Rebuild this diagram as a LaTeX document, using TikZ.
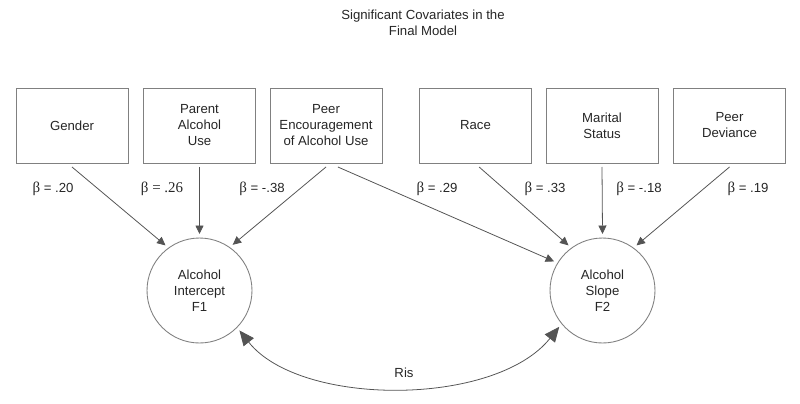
\documentclass[tikz,border=0pt]{standalone}
\usepackage{fontspec}
\usepackage{amsmath}
\setmainfont{Liberation Sans}
\newfontfamily\timesfont{Liberation Serif}
\usetikzlibrary{arrows.meta}
\definecolor{linegray}{rgb}{0.33, 0.33, 0.33}
\definecolor{boxgray}{rgb}{0.5, 0.5, 0.5}
\definecolor{textgray}{rgb}{0.15, 0.15, 0.15}
\newcommand{\bet}{{\timesfont\fontsize{8.5pt}{9pt}\selectfont β}}

\begin{document}
\begin{tikzpicture}[x=0.02cm, y=-0.02cm,
    font=\fontsize{7.5pt}{9.1pt}\selectfont, text=textgray,
    covbox/.style={draw=boxgray, line width=0.5pt, minimum width=2.24cm, minimum height=1.5cm, align=center, inner sep=0pt, outer sep=0.08cm},
    factor/.style={draw=boxgray, line width=0.5pt, circle, minimum size=2.1cm, align=center, inner sep=0pt, outer sep=0.08cm},
    path/.style={draw=linegray, line width=0.45pt, -{Triangle[length=1.7mm, width=1.6mm]}},
    ris/.style={draw=linegray, line width=0.45pt, {Triangle[length=3mm, width=2.6mm]}-{Triangle[length=3mm, width=2.6mm]}}]
    \useasboundingbox (0,0) rectangle (800,403);

    % Title
    \node[align=center] (title) at (423, 23) {Significant Covariates in the\\Final Model};

    % Covariates
    \node[covbox] (gender) at (72, 125.5) {Gender};
    \node[covbox] (parent) at (199.5, 125.5) {Parent\\Alcohol\\Use};
    \node[covbox] (peerenc) at (326, 125.5) {Peer\\Encouragement\\of Alcohol Use};
    \node[covbox] (race) at (475.5, 125.5) {Race};
    \node[covbox] (marital) at (602, 125.5) {Marital\\Status};
    \node[covbox] (peerdev) at (729.5, 125.5) {Peer\\Deviance};

    % Latent growth factors
    \node[factor] (F1) at (199.5, 290.5) {Alcohol\\Intercept\\F1};
    \node[factor] (F2) at (602.5, 290.5) {Alcohol\\Slope\\F2};

    % Paths to the intercept
    \draw[path] (gender.south) -- (F1.127);
    \draw[path] (parent.south) -- (F1.90);
    \draw[path] (peerenc.south) -- (F1.54);

    % Paths to the slope
    \draw[path] (peerenc.-74) -- (F2.149);
    \draw[path] (race.-85) -- (F2.127);
    \draw[path] (marital.south) -- (F2.90);
    \draw[path] (peerdev.south) -- (F2.53);

    % Coefficients
    \node (b1) at (53, 189) {\bet\ = .20};
    \node (b2) at (162, 189) {\timesfont\fontsize{8.5pt}{9pt}\selectfont β = .26};
    \node (b3) at (262, 189) {\bet\ = -.38};
    \node (b4) at (437, 189) {\bet\ = .29};
    \node (b5) at (545, 189) {\bet\ = .33};
    \node (b6) at (639, 189) {\bet\ = -.18};
    \node (b7) at (748, 189) {\bet\ = .19};

    % Residual covariance
    \draw[ris] (F1.-45) .. controls (300, 407) and (495, 407) .. (F2.-140);
    \node (risl) at (404, 373) {Ris};

\end{tikzpicture}
\end{document}
